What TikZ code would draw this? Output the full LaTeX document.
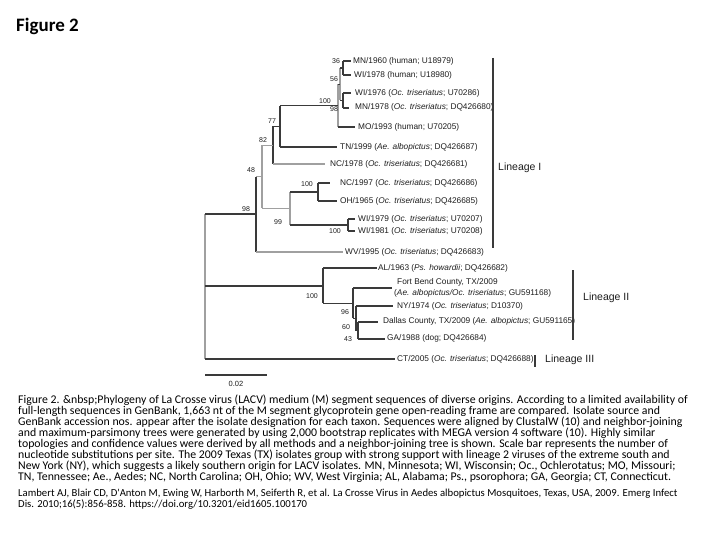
\documentclass[tikz,border=0pt]{standalone}
\usepackage{fontspec}
\setmainfont{Liberation Sans}
\newfontfamily\capfont{Carlito}
\definecolor{treedark}{HTML}{3A3A3A}
\definecolor{treelight}{HTML}{A0A0A0}
\definecolor{labcol}{HTML}{1E1E1E}
\begin{document}
\begin{tikzpicture}[x=1pt,y=-1pt,
  br/.style={draw=treedark,line width=1.1pt},
  brl/.style={draw=treelight,line width=1.1pt},
  brk/.style={draw=treedark,line width=2pt},
  brg/.style={draw=treelight,line width=2.2pt},
  lbr/.style={draw=treedark,line width=1.4pt},
  lab/.style={anchor=west,inner sep=0pt,text=labcol,font=\fontsize{8.3}{11}\selectfont},
  bs/.style={inner sep=0pt,text=labcol,font=\fontsize{7}{8}\selectfont},
  lin/.style={anchor=west,inner sep=0pt,text=labcol,font=\fontsize{10.5}{12}\selectfont},
  captext/.style={anchor=west,inner sep=0pt,text=black,font=\capfont\fontsize{11.8}{12}\selectfont},
  citetext/.style={anchor=west,inner sep=0pt,text=black,font=\capfont\fontsize{10.7}{12}\selectfont}]
\useasboundingbox (0,0) rectangle (720,540);
\fill[white] (0,0) rectangle (720,540);

% title
\node[anchor=west,inner sep=0pt,font=\capfont\bfseries\fontsize{19}{21}\selectfont] (title) at (16,26) {Figure 2};

% internal nodes
\coordinate (n36) at (343,68);
\coordinate (n98a) at (343,100.5);
\coordinate (n56) at (340,84.25);
\coordinate (n100a) at (338,105.6);
\coordinate (n77) at (280,126.3);
\coordinate (n82) at (273,145.2);
\coordinate (n100b) at (318,192);
\coordinate (nWI) at (348,225);
\coordinate (n99) at (290,208.5);
\coordinate (n48) at (262,176.8);
\coordinate (n98) at (256,214.5);
\coordinate (n43) at (358,330.5);
\coordinate (n60) at (356,318.2);
\coordinate (n96) at (353,303.1);
\coordinate (n100c) at (323,285.6);
\coordinate (root) at (205,286);

% leaf ends
\coordinate (eMN60) at (351,61);
\coordinate (eWI78) at (351,75);
\coordinate (eWI76) at (351,93);
\coordinate (eMN78) at (349,108);
\coordinate (eMO93) at (355,127);
\coordinate (eTN99) at (337,147);
\coordinate (eNC78) at (325,164);
\coordinate (eNC97) at (330,183);
\coordinate (eOH65) at (337,201);
\coordinate (eWI79) at (355,219);
\coordinate (eWI81) at (355,231);
\coordinate (eWV95) at (343,252);
\coordinate (eAL63) at (377,268);
\coordinate (eFB) at (392,288);
\coordinate (eNY74) at (393,306);
\coordinate (eDal) at (378,322);
\coordinate (eGA88) at (385,339);
\coordinate (eCT05) at (395,359);

% leaf labels
\node[lab] (tMN60) at (353,61) {MN/1960 (human; U18979)};
\node[lab] (tWI78) at (354,75) {WI/1978 (human; U18980)};
\node[lab] (tWI76) at (355,93) {WI/1976 (\textit{Oc. triseriatus}; U70286)};
\node[lab] (tMN78) at (355,107) {MN/1978 (\textit{Oc. triseriatus}; DQ426680)};
\node[lab] (tMO93) at (358,127) {MO/1993 (human; U70205)};
\node[lab] (tTN99) at (340,147) {TN/1999 (\textit{Ae. albopictus}; DQ426687)};
\node[lab] (tNC78) at (330,164) {NC/1978 (\textit{Oc. triseriatus}; DQ426681)};
\node[lab] (tNC97) at (340,183) {NC/1997 (\textit{Oc. triseriatus}; DQ426686)};
\node[lab] (tOH65) at (340,201) {OH/1965 (\textit{Oc. triseriatus}; DQ426685)};
\node[lab] (tWI79) at (358,219) {WI/1979 (\textit{Oc. triseriatus}; U70207)};
\node[lab] (tWI81) at (358,231) {WI/1981 (\textit{Oc. triseriatus}; U70208)};
\node[lab] (tWV95) at (345,252) {WV/1995 (\textit{Oc. triseriatus}; DQ426683)};
\node[lab] (tAL63) at (378,268) {AL/1963 (\textit{Ps. howardii}; DQ426682)};
\node[lab,align=left] (tFB) at (394,288) {\hspace*{3pt}Fort Bend County, TX/2009\\(\textit{Ae. albopictus/Oc. triseriatus}; GU591168)};
\node[lab] (tNY74) at (397,306) {NY/1974 (\textit{Oc. triseriatus}; D10370)};
\node[lab] (tDal) at (383,321) {Dallas County, TX/2009 (\textit{Ae. albopictus}; GU591165)};
\node[lab] (tGA88) at (387,338) {GA/1988 (dog; DQ426684)};
\node[lab] (tCT05) at (397,359) {CT/2005 (\textit{Oc. triseriatus}; DQ426688)};

% clade 36
\draw[br] (n36 |- eMN60) -- (n36 |- eWI78);
\draw[br] (n36 |- eMN60) -- (eMN60);
\draw[br] (n36 |- eWI78) -- (eWI78);
% clade 98a
\draw[br] (n98a |- eWI76) -- (n98a |- eMN78);
\draw[br] (n98a |- eWI76) -- (eWI76);
\draw[br] (n98a |- eMN78) -- (eMN78);
% clade 56
\draw[brg] (n56 |- n36) -- (n56 |- n98a);
\draw[br] (n56 |- n36) -- (n36);
\draw[br] (n56 |- n98a) -- (n98a);
% clade 100a
\draw[brg] (n100a |- n56) -- (n100a |- eMO93);
\draw[br] (n100a |- n56) -- (n56);
\draw[br] (n100a |- eMO93) -- (eMO93);
% clade 77
\draw[br] (n77 |- n100a) -- (n77 |- eTN99);
\draw[br] (n77 |- n100a) -- (n100a);
\draw[br] (n77 |- eTN99) -- (eTN99);
% clade 82
\draw[br] (n82 |- n77) -- (n82 |- eNC78);
\draw[br] (n82 |- n77) -- (n77);
\draw[brl] (n82 |- eNC78) -- (eNC78);
% clade 100b
\draw[br] (n100b |- eNC97) -- (n100b |- eOH65);
\draw[br] (n100b |- eNC97) -- (eNC97);
\draw[br] (n100b |- eOH65) -- (eOH65);
% clade WI
\draw[br] (nWI |- eWI79) -- (nWI |- eWI81);
\draw[br] (nWI |- eWI79) -- (eWI79);
\draw[br] (nWI |- eWI81) -- (eWI81);
% clade 99
\draw[brl] (n99 |- n100b) -- (n99 |- nWI);
\draw[br] (n99 |- n100b) -- (n100b);
\draw[br] (n99 |- nWI) -- (nWI);
% clade 48
\draw[brl] (n48 |- n82) -- (n48 |- n99);
\draw[brl] (n48 |- n82) -- (n82);
\draw[brl] (n48 |- n99) -- (n99);
% clade 98
\draw[brk] (n98 |- n48) -- (n98 |- eWV95);
\draw[brl] (n98 |- n48) -- (n48);
\draw[brl] (n98 |- eWV95) -- (eWV95);
% clade 43
\draw[br] (n43 |- eDal) -- (n43 |- eGA88);
\draw[br] (n43 |- eDal) -- (eDal);
\draw[br] (n43 |- eGA88) -- (eGA88);
% clade 60
\draw[br] (n60 |- eNY74) -- (n60 |- n43);
\draw[br] (n60 |- eNY74) -- (eNY74);
\draw[br] (n60 |- n43) -- (n43);
% clade 96
\draw[br] (n96 |- eFB) -- (n96 |- n60);
\draw[br] (n96 |- eFB) -- (eFB);
\draw[br] (n96 |- n60) -- (n60);
% clade 100c
\draw[br] (n100c |- eAL63) -- (n100c |- n96);
\draw[br] (n100c |- eAL63) -- (eAL63);
\draw[br] (n100c |- n96) -- (n96);
% root
\draw[brl] (root |- n98) -- (root |- eCT05);
\draw[brk] (root |- n98) -- (n98);
\draw[brk] (root |- n100c) -- (n100c);
\draw[brk] (root |- eCT05) -- (eCT05);

% bootstrap values
\node[bs] (b36) at (336,61) {36};
\node[bs] (b56) at (334,79) {56};
\node[bs] (b100a) at (325,101) {100};
\node[bs] (b98a) at (334,109) {98};
\node[bs] (b77) at (272,121) {77};
\node[bs] (b82) at (263,140) {82};
\node[bs] (b48) at (251,170) {48};
\node[bs] (b100b) at (307,184) {100};
\node[bs] (b98) at (246,209) {98};
\node[bs] (b99) at (278,222) {99};
\node[bs] (b100w) at (335,231) {100};
\node[bs] (b100c) at (312,296) {100};
\node[bs] (b96) at (345,312) {96};
\node[bs] (b60) at (346,327) {60};
\node[bs] (b43) at (348,339) {43};

% scale bar
\coordinate (sb1) at (205,375);
\coordinate (sb2) at (267,375);
\draw[br] (sb1) -- (sb2);
\node[bs,font=\fontsize{7.5}{9}\selectfont] (sbl) at (236,384) {0.02};

% lineages
\coordinate (L1a) at (493,58);
\coordinate (L1b) at (493,248);
\draw[lbr] (L1a) -- (L1b);
\node[lin] (L1t) at (498,168) {Lineage I};
\coordinate (L2a) at (573,270);
\coordinate (L2b) at (573,340);
\draw[lbr] (L2a) -- (L2b);
\node[lin] (L2t) at (583,298) {Lineage II};
\coordinate (L3a) at (535,355);
\coordinate (L3b) at (535,367);
\draw[lbr] (L3a) -- (L3b);
\node[lin] (L3t) at (545,360) {Lineage III};

% caption
\node[captext] (c1) at (18,400) {Figure 2. \&nbsp;Phylogeny of La Crosse virus (LACV) medium (M) segment sequences of diverse origins. According to a limited availability of};
\node[captext] (c2) at (18,411) {full-length sequences in GenBank, 1,663 nt of the M segment glycoprotein gene open-reading frame are compared. Isolate source and};
\node[captext] (c3) at (18,422) {GenBank accession nos. appear after the isolate designation for each taxon. Sequences were aligned by ClustalW (10) and neighbor-joining};
\node[captext] (c4) at (18,433) {and maximum-parsimony trees were generated by using 2,000 bootstrap replicates with MEGA version 4 software (10). Highly similar};
\node[captext] (c5) at (18,444) {topologies and confidence values were derived by all methods and a neighbor-joining tree is shown. Scale bar represents the number of};
\node[captext] (c6) at (18,455) {nucleotide substitutions per site. The 2009 Texas (TX) isolates group with strong support with lineage 2 viruses of the extreme south and};
\node[captext] (c7) at (18,466) {New York (NY), which suggests a likely southern origin for LACV isolates. MN, Minnesota; WI, Wisconsin; Oc., Ochlerotatus; MO, Missouri;};
\node[captext] (c8) at (18,477) {TN, Tennessee; Ae., Aedes; NC, North Carolina; OH, Ohio; WV, West Virginia; AL, Alabama; Ps., psorophora; GA, Georgia; CT, Connecticut.};
\node[citetext] (c9) at (18,494) {Lambert AJ, Blair CD, D'Anton M, Ewing W, Harborth M, Seiferth R, et al. La Crosse Virus in Aedes albopictus Mosquitoes, Texas, USA, 2009. Emerg Infect};
\node[citetext] (c10) at (18,505) {Dis. 2010;16(5):856-858. https://doi.org/10.3201/eid1605.100170};
\end{tikzpicture}
\end{document}
